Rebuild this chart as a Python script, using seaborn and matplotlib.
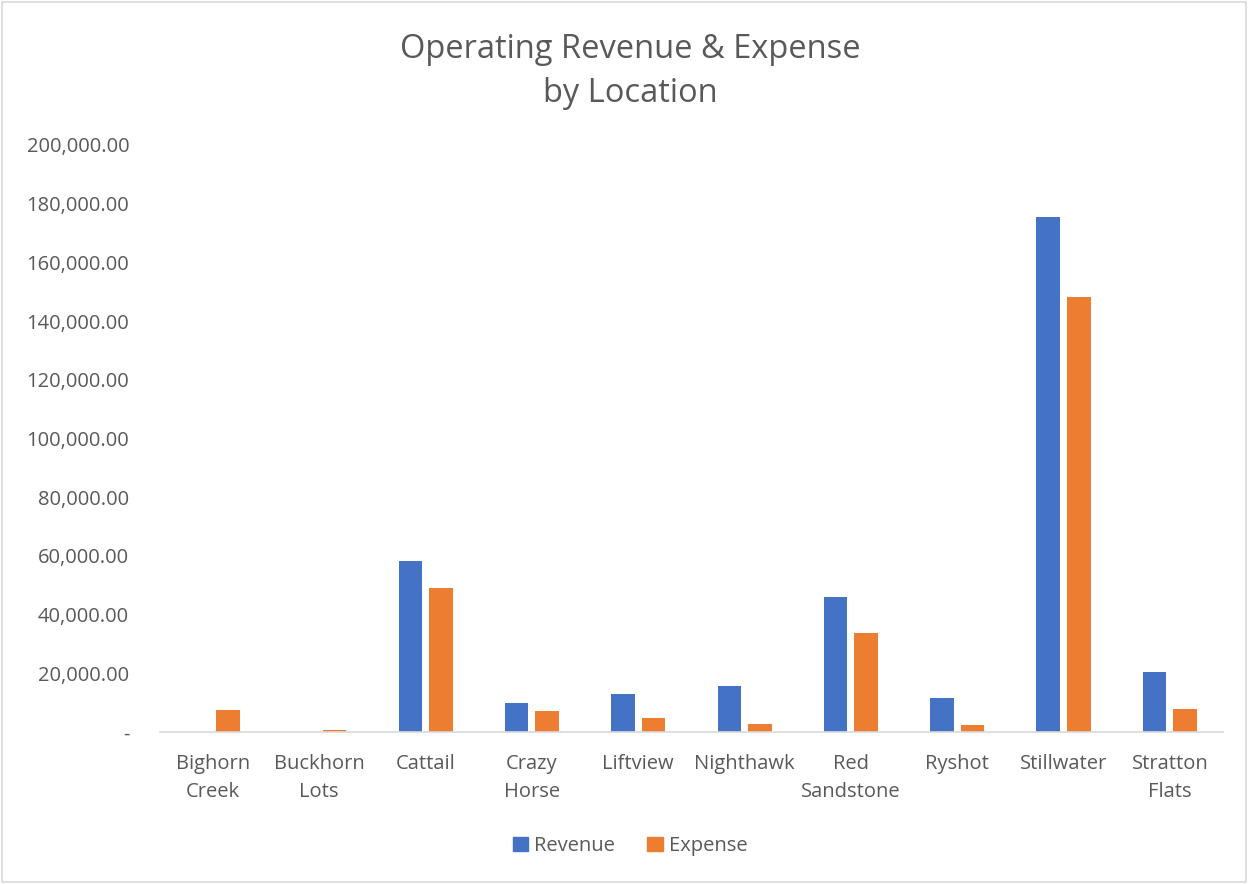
import pandas as pd
import matplotlib
matplotlib.use("Agg")
import matplotlib.pyplot as plt
import seaborn as sns
from matplotlib.ticker import FuncFormatter

# values
locations = ["Bighorn\nCreek", "Buckhorn\nLots", "Cattail", "Crazy\nHorse", "Liftview",
             "Nighthawk", "Red\nSandstone", "Ryshot", "Stillwater", "Stratton\nFlats"]
revenue = [0, 0, 58400, 9800, 13100, 15700, 45900, 11400, 175500, 20300]
expense = [7600, 600, 48900, 7050, 4900, 2600, 33600, 2300, 148200, 7700]
series = ["Revenue", "Expense"]
colors = ["#4472C4", "#ED7D31"]

df = pd.DataFrame({
    "location": locations * 2,
    "series": [series[0]] * len(locations) + [series[1]] * len(locations),
    "value": revenue + expense,
})

sns.set_style("white")
plt.rcParams["font.family"] = ["Open Sans", "DejaVu Sans"]
text_col = "#595959"

fig = plt.figure(figsize=(12.48, 8.84), dpi=100)
ax = fig.add_axes([0.128, 0.172, 0.852, 0.664])

sns.barplot(data=df, x="location", y="value", hue="series", palette=colors,
            width=0.575, gap=0.23, ax=ax, saturation=1, edgecolor="none", legend=False)

ax.set_ylim(0, 200000)
ax.set_yticks(range(0, 200001, 20000))
ax.yaxis.set_major_formatter(FuncFormatter(lambda v, p: "-" if v == 0 else f"{v:,.2f}"))
ax.set_xlim(-0.5, len(locations) - 0.5)
ax.set_xlabel("")
ax.set_ylabel("")
ax.tick_params(axis="y", labelsize=14.5, colors=text_col, length=0, pad=22)
ax.tick_params(axis="x", labelsize=14.5, colors=text_col, length=0, pad=16)
for lbl in ax.get_xticklabels():
    lbl.set_linespacing(1.55)
for s in ["top", "right", "left"]:
    ax.spines[s].set_visible(False)
ax.spines["bottom"].set_color("#D9D9D9")
ax.spines["bottom"].set_linewidth(1.2)

fig.text(0.505, 0.919, "Operating Revenue & Expense\nby Location", ha="center", va="center",
         fontsize=23.5, color=text_col, linespacing=1.45)

handles = [plt.Rectangle((0, 0), 1, 1, color=c) for c in colors]
leg = fig.legend(handles, series, loc="center", bbox_to_anchor=(0.505, 0.043), ncol=2,
                 frameon=False, fontsize=14.5, handlelength=0.75, handleheight=0.75,
                 handletextpad=0.3, columnspacing=1.6)
for t in leg.get_texts():
    t.set_color(text_col)

# chart border
fig.patches.append(plt.Rectangle((0.002, 0.002), 0.996, 0.996, transform=fig.transFigure,
                                 fill=False, edgecolor="#D9D9D9", linewidth=1.2))

fig.savefig("out.png", dpi=100)
